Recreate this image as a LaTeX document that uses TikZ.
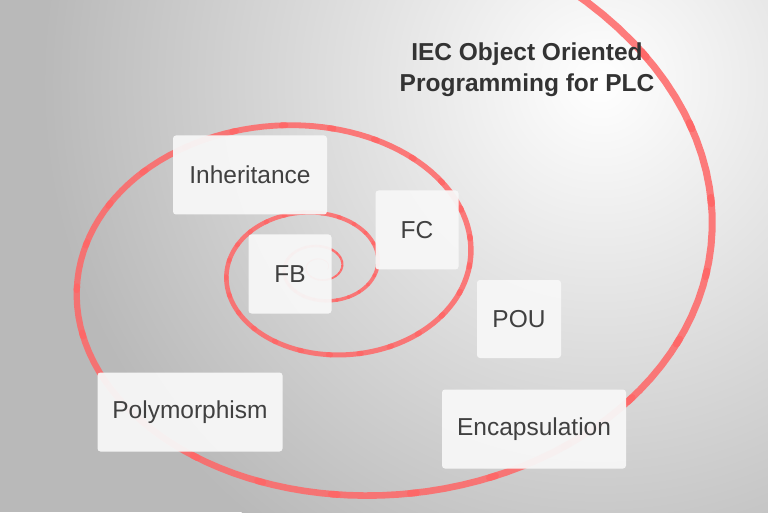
\documentclass[tikz,border=0pt]{standalone}
\usepackage{fontspec}
\setmainfont{Liberation Sans}
\begin{document}
\begin{tikzpicture}[x=1pt,y=1pt,
  box/.style={draw=none,fill=gray!6,fill opacity=0.95,text opacity=1,rounded corners=3pt,font=\fontsize{24.5}{28}\selectfont,text=black!75},
  spir/.style={draw=red!60!white,line cap=round}]
\useasboundingbox (0,0) rectangle (768,512);
\begin{scope}
\clip (0,0) rectangle (768,512);
\fill[gray!55] (0,0) rectangle (768,512);
\shade[inner color=white,outer color=gray!55] (600,430) circle (560);
\foreach \i in {0,...,106}{
  \pgfmathsetmacro{\ta}{\i*0.25}
  \pgfmathsetmacro{\tb}{(\i+1)*0.25+0.02}
  \pgfmathsetmacro{\w}{0.4+\i*0.065}
  \draw[spir,line width=\w pt,opacity=0.85,domain=\ta:\tb,samples=6,variable=\t]
    plot ({320+8*exp(0.152*\t)*cos(\t r-23)},{245+0.74*8*exp(0.152*\t)*sin(\t r-23)});
}
\end{scope}
\node[box,minimum width=154,minimum height=79] (inh) at (250,337) {Inheritance};
\node[box,minimum width=83,minimum height=79] (fc) at (417,282) {FC};
\node[box,minimum width=83,minimum height=79] (fb) at (290,238) {FB};
\node[box,minimum width=84,minimum height=78] (pou) at (519,193) {POU};
\node[box,minimum width=185,minimum height=79] (poly) at (190,100) {Polymorphism};
\node[box,minimum width=184,minimum height=79] (enc) at (534,83) {Encapsulation};
\node[font=\bfseries\fontsize{24.5}{31}\selectfont,align=center,text=black!80] (title) at (527,442) {IEC Object Oriented\\Programming for PLC};
\end{tikzpicture}
\end{document}
